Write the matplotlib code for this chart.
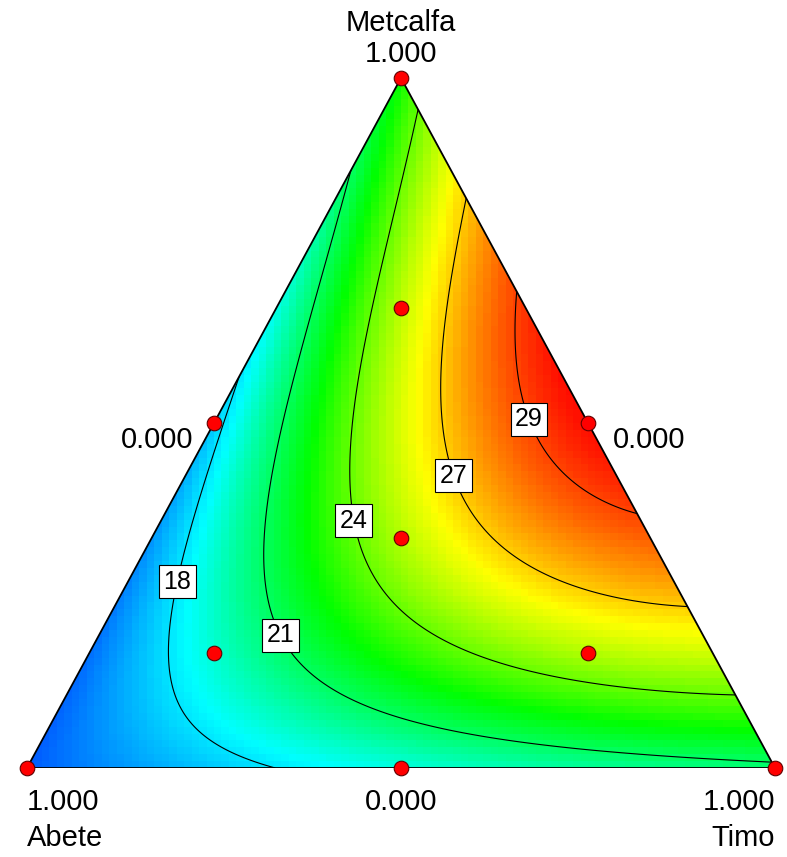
import numpy as np
import matplotlib
matplotlib.use("Agg")
import matplotlib.pyplot as plt
from matplotlib.colors import LinearSegmentedColormap
from matplotlib.patches import Polygon

plt.rcParams['font.family'] = ['Liberation Sans', 'DejaVu Sans']

# mixture components: A = Abete, B = Metcalfa, C = Timo
# cubic Scheffe model, coefficients estimated from the contour lines
term_names = ["A", "B", "C", "AB", "AC", "BC", "AB(A-B)", "AC(A-C)", "BC(B-C)", "ABC"]
coef = [15.26, 22.68, 20.71, -6.00, 4.03, 32.47, -0.14, 0.50, -0.10, 59.10]

levels = [18, 21, 24, 27, 29]
level_labels = ["18", "21", "24", "27", "29"]
# where the boxed labels sit (triangle coords)
label_x = [0.195, 0.345, 0.440, 0.575, 0.675]
label_y = [0.271, 0.196, 0.359, 0.425, 0.507]

# design points (fractions of Abete, Metcalfa, Timo)
design_a = [1, 0, 0, 0.5, 0.5, 0, 1/3, 2/3, 1/6, 1/6]
design_b = [0, 1, 0, 0.5, 0, 0.5, 1/3, 1/6, 2/3, 1/6]
design_c = [0, 0, 1, 0, 0.5, 0.5, 1/3, 1/6, 1/6, 2/3]

z_low, z_high = 15.2, 30.0


def model(a, b, c):
    t = [a, b, c, a*b, a*c, b*c, a*b*(a-b), a*c*(a-c), b*c*(b-c), a*b*c]
    return sum(k * v for k, v in zip(coef, t))


fig = plt.figure(figsize=(7.87, 8.57), dpi=100)
ax = fig.add_axes([27/787, (857-768)/857, 748/787, 690/857])
ax.set_xlim(0, 1)
ax.set_ylim(0, 1)
ax.axis('off')

# colour map like the Design-Expert one
stops = [(0.0, (0.0, 0.35, 1.0)),
         ((18.5 - z_low) / (z_high - z_low), (0.0, 1.0, 1.0)),
         ((22.5 - z_low) / (z_high - z_low), (0.0, 1.0, 0.0)),
         ((26.3 - z_low) / (z_high - z_low), (1.0, 1.0, 0.0)),
         (1.0, (1.0, 0.0, 0.0))]
cmap = LinearSegmentedColormap.from_list('de', stops)

tri = Polygon([(0, 0), (1, 0), (0.5, 1)], closed=True, fc='none', ec='black', lw=1.3, zorder=5)
ax.add_patch(tri)

# coarse cells for the colour fill (blocky like the original)
xe, ye = np.meshgrid(np.linspace(0, 1, 101), np.linspace(0, 1, 101))
xc = (xe[:-1, :-1] + xe[1:, 1:]) / 2
yc = (ye[:-1, :-1] + ye[1:, 1:]) / 2
zc = model(1 - yc - (xc - yc / 2), yc, xc - yc / 2)
mesh = ax.pcolormesh(xe, ye, zc, cmap=cmap, shading='flat', vmin=z_low, vmax=z_high,
                     antialiased=False, edgecolors='none')
mesh.set_clip_path(tri)

# fine grid for the contour lines
xg, yg = np.meshgrid(np.linspace(0, 1, 500), np.linspace(0, 1, 500))
zg = model(1 - yg - (xg - yg / 2), yg, xg - yg / 2)
cs = ax.contour(xg, yg, zg, levels=levels, colors='black', linewidths=0.8)
cs.set_clip_path(tri)
labels = ax.clabel(cs, levels, inline=False, fontsize=18,
                   fmt=dict(zip(levels, level_labels)),
                   manual=list(zip(label_x, label_y)))
for t in labels:
    t.set_rotation(0)
    t.set_bbox(dict(boxstyle='square,pad=0.18', fc='white', ec='black', lw=0.8))
    t.set_zorder(6)

dx = [c + b / 2 for b, c in zip(design_b, design_c)]
ax.plot(dx, design_b, 'o', ms=10.5, mfc='red', mec='#600000', mew=0.8, clip_on=False, zorder=7)

fs = 21
ax.text(0.5, 1.080, 'Metcalfa', ha='center', va='center', fontsize=fs)
ax.text(0.5, 1.035, '1.000', ha='center', va='center', fontsize=fs)
ax.text(0.174, 0.475, '0.000', ha='center', va='center', fontsize=fs)
ax.text(0.832, 0.475, '0.000', ha='center', va='center', fontsize=fs)
ax.text(0.0, -0.050, '1.000', ha='left', va='center', fontsize=fs)
ax.text(0.0, -0.101, 'Abete', ha='left', va='center', fontsize=fs)
ax.text(0.5, -0.050, '0.000', ha='center', va='center', fontsize=fs)
ax.text(1.0, -0.050, '1.000', ha='right', va='center', fontsize=fs)
ax.text(1.0, -0.101, 'Timo', ha='right', va='center', fontsize=fs)

fig.savefig('out.png', dpi=100)
